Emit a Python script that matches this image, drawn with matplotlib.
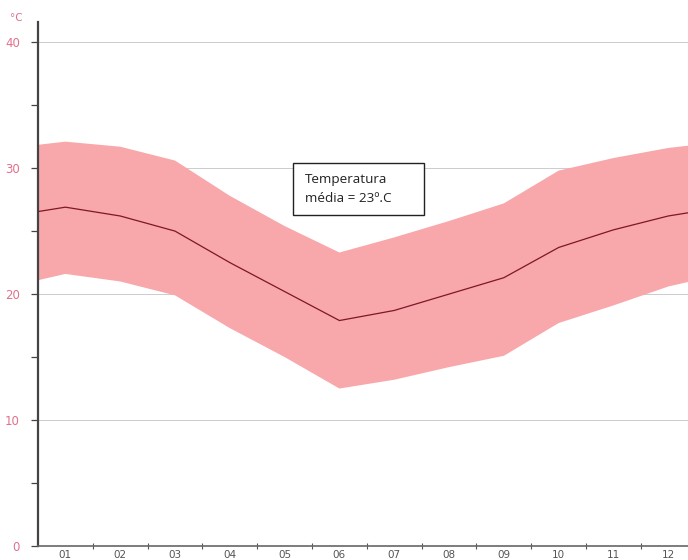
import matplotlib
matplotlib.use("Agg")
import matplotlib.pyplot as plt
from matplotlib.patches import Rectangle
import numpy as np

# Monthly climate normals (°C)
months = ["01", "02", "03", "04", "05", "06", "07", "08", "09", "10", "11", "12"]
temp_mean = [26.9, 26.2, 25.0, 22.5, 20.2, 17.9, 18.7, 20.0, 21.3, 23.7, 25.1, 26.2]
temp_max = [32.1, 31.7, 30.6, 27.8, 25.4, 23.3, 24.5, 25.8, 27.2, 29.8, 30.8, 31.6]
temp_min = [21.6, 21.0, 19.9, 17.3, 15.0, 12.5, 13.2, 14.2, 15.1, 17.7, 19.1, 20.6]
y_ticks = [0, 10, 20, 30, 40]
note_text = "Temperatura\nmédia = 23º.C"

band_color = "#f8a7ab"
line_color = "#7e1726"
label_pink = "#e0708c"

# the year wraps round: December before January, January after December
x = np.arange(0, 14)
mean_c = [temp_mean[-1]] + temp_mean + [temp_mean[0]]
max_c = [temp_max[-1]] + temp_max + [temp_max[0]]
min_c = [temp_min[-1]] + temp_min + [temp_min[0]]

fig = plt.figure(figsize=(6.88, 5.6), dpi=100)
ax = fig.add_axes([38 / 688, 14 / 560, 650 / 688, 524 / 560])

ax.fill_between(x, min_c, max_c, color=band_color, lw=0, zorder=2)
ax.plot(x, mean_c, color=line_color, lw=0.9, zorder=3)

ax.set_xlim(0.5, 12.36)
ax.set_ylim(0, 41.6)

for v in y_ticks[1:]:
    ax.axhline(v, color="#cccccc", lw=0.7, zorder=1)

ax.set_yticks(y_ticks)
ax.set_yticklabels([str(v) for v in y_ticks], color=label_pink, fontsize=8.5,
                   family="DejaVu Sans")
ax.set_yticks([5, 15, 25, 35], minor=True)
ax.tick_params(axis="y", which="both", length=5, width=0.9, color="#444444", pad=8)

ax.set_xticks(np.arange(1, 13))
ax.set_xticklabels(months, fontsize=7.5, color="#555555")
ax.tick_params(axis="x", which="major", length=0, pad=3)
ax.set_xticks(np.arange(1.5, 12.5, 1), minor=True)
ax.tick_params(axis="x", which="minor", direction="inout", length=4, width=0.8,
               color="#555555")

for s in ["top", "right"]:
    ax.spines[s].set_visible(False)
ax.spines["left"].set_color("#444444")
ax.spines["left"].set_linewidth(1.6)
ax.spines["bottom"].set_color("#666666")
ax.spines["bottom"].set_linewidth(1.2)

fig.text(16 / 688, 1 - 18 / 560, "°C", color=label_pink, fontsize=7.5,
         ha="center", va="center")

# annotation box
bx0, by0 = (293 - 38) / 650, (546 - 215) / 524
bw, bh = (424 - 293) / 650, (215 - 163) / 524
ax.add_patch(Rectangle((bx0, by0), bw, bh, transform=ax.transAxes,
                       facecolor="white", edgecolor="#222222", lw=1.0, zorder=5))
ax.text(bx0 + 12 / 650, by0 + bh / 2, note_text, transform=ax.transAxes,
        ha="left", va="center", fontsize=9.7, family="Open Sans",
        linespacing=1.5, color="#222222", zorder=6)

fig.savefig("out.png", dpi=100)
